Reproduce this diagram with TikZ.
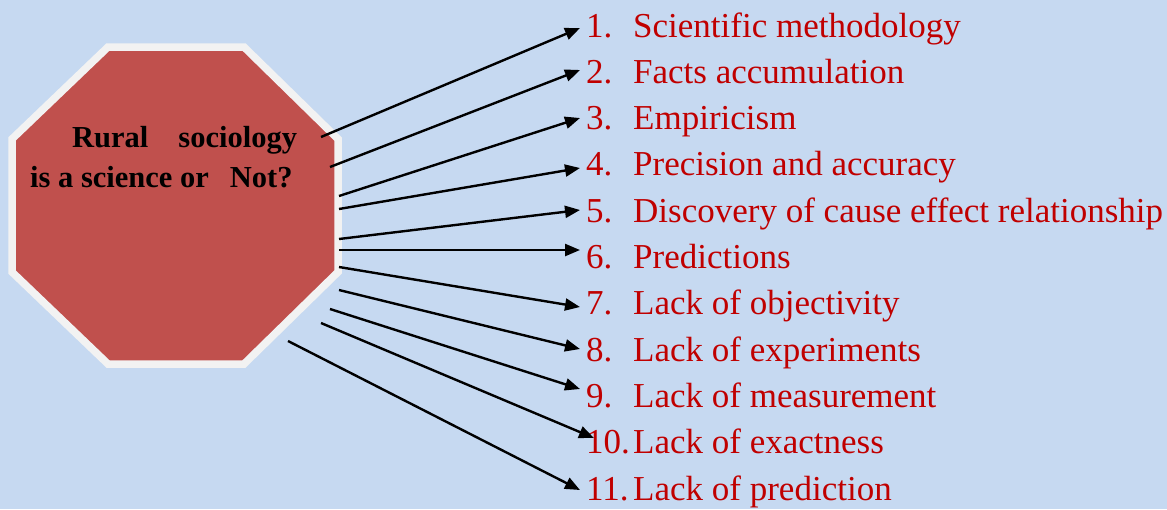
\documentclass[tikz,border=0pt]{standalone}
\usepackage{fontspec}
\setmainfont{Liberation Serif}
\usetikzlibrary{arrows.meta}
\definecolor{bgblue}{HTML}{C6D9F1}
\definecolor{octred}{HTML}{C0504D}
\definecolor{octrim}{HTML}{F2F2F2}
\definecolor{itemred}{HTML}{C00000}
\tikzset{
  conn/.style={line width=2.4pt, -{Triangle[length=15pt,width=12pt]}},
  itemnum/.style={anchor=base west, inner sep=0pt, text=itemred, font=\fontsize{35}{40}\selectfont},
  itemtxt/.style={anchor=base west, inner sep=0pt, text=itemred, font=\fontsize{35}{40}\selectfont},
  qtxt/.style={anchor=base west, inner sep=0pt, font=\fontsize{30.5}{34}\selectfont\bfseries},
}
\begin{document}
\begin{tikzpicture}[x=1pt,y=-1pt]
\useasboundingbox (0,0) rectangle (1167,509);
\fill[bgblue] (0,0) rectangle (1167,509);
% octagon
\draw[octrim, line width=7.5pt, fill=octred, line join=miter]
  (108,47) -- (244,47) -- (338,139) -- (338,272) -- (244,364) -- (108,364) -- (12,272) -- (12,139) -- cycle;
\node[qtxt] (q1) at (72,147) {Rural\hspace{30pt}sociology};
\node[qtxt] (q2) at (30,187) {is a science or\hspace{21pt}Not?};
% items
\foreach \i/\t [count=\k from 0] in {1/Scientific methodology,2/Facts accumulation,3/Empiricism,4/Precision and accuracy,5/Discovery of cause effect relationship,6/Predictions,7/Lack of objectivity,8/Lack of experiments,9/Lack of measurement,10/Lack of exactness,11/Lack of prediction}{
  \pgfmathsetmacro{\yy}{37+46.3*\k}
  \node[itemnum] (n\i) at (586,\yy) {\i.};
  \node[itemtxt] (t\i) at (633,\yy) {\t};
}
% arrow start and end coordinates
\coordinate (s1) at (321,137);  \coordinate (e1) at (580,28);
\coordinate (s2) at (330,167);  \coordinate (e2) at (580,70);
\coordinate (s3) at (339,196);  \coordinate (e3) at (580,118);
\coordinate (s4) at (339,209);  \coordinate (e4) at (580,168);
\coordinate (s5) at (339,239);  \coordinate (e5) at (580,210);
\coordinate (s6) at (339,250);  \coordinate (e6) at (580,250);
\coordinate (s7) at (339,267);  \coordinate (e7) at (580,307);
\coordinate (s8) at (339,290);  \coordinate (e8) at (580,349);
\coordinate (s9) at (330,309);  \coordinate (e9) at (580,389);
\coordinate (s10) at (321,323); \coordinate (e10) at (594,438);
\coordinate (s11) at (288,341); \coordinate (e11) at (580,490);
\foreach \i in {1,...,11}{
  \draw[conn] (s\i) -- (e\i);
}
\end{tikzpicture}
\end{document}
